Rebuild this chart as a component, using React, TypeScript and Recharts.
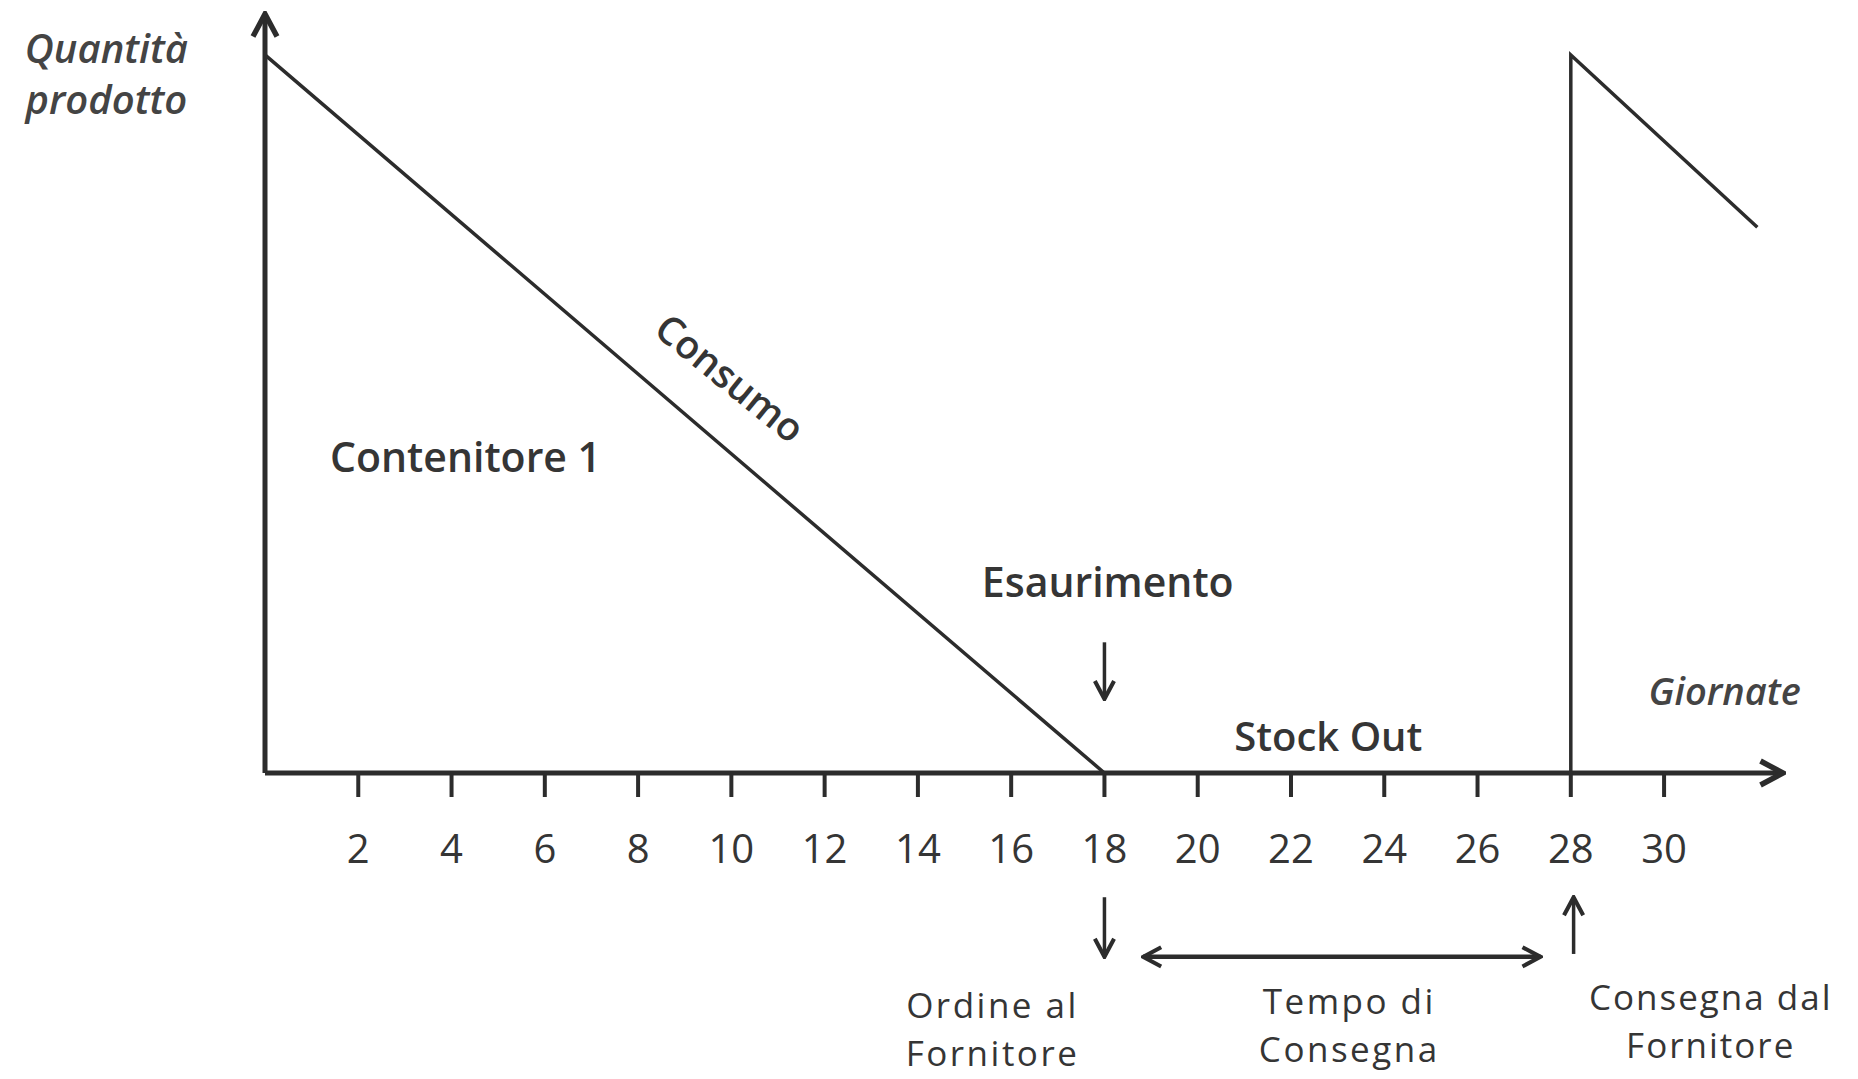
import * as React from 'react';
import { LineChart, Line, XAxis, YAxis, ReferenceDot, ReferenceLine } from 'recharts';

// Stock level over the days: consumption to zero on day 18, refill on day 28
const days = [0, 18, 28, 28, 32];
const quantity = [100, 0, 0, 100, 76];
const tickDays = [2, 4, 6, 8, 10, 12, 14, 16, 18, 20, 22, 24, 26, 28, 30];

const data = days.map((d, i) => ({ day: d, q: quantity[i] }));

const INK = '#2c2c2c';
const TEXT = '#353535';
const FONT = '"Open Sans", "DejaVu Sans", sans-serif';

type NoteOpts = {
  size?: number;
  italic?: boolean;
  rotate?: number;
  lineHeight?: number;
  color?: string;
  weight?: number;
  spacing?: number;
};

const note = (lines: string[], opts: NoteOpts = {}) => (props: any) => {
  const vb = props.viewBox || {};
  const cx = (vb.x ?? 0) + (vb.width ?? 0) / 2;
  const cy = (vb.y ?? 0) + (vb.height ?? 0) / 2;
  const lh = opts.lineHeight ?? 48;
  const top = cy - ((lines.length - 1) * lh) / 2;
  return (
    <text
      x={cx}
      y={top}
      textAnchor="middle"
      dominantBaseline="central"
      fontFamily={FONT}
      fontSize={opts.size ?? 40}
      fontStyle={opts.italic ? 'italic' : 'normal'}
      fontWeight={opts.weight ?? 600}
      letterSpacing={opts.spacing ?? 0}
      fill={opts.color ?? TEXT}
      transform={opts.rotate ? `rotate(${opts.rotate} ${cx} ${cy})` : undefined}
    >
      {lines.map((l, i) => (
        <tspan key={l} x={cx} y={top + i * lh}>
          {l}
        </tspan>
      ))}
    </text>
  );
};

export default function App() {
  return (
    <div style={{ position: 'absolute', left: 0, top: 0, background: '#fff' }}>
      <LineChart width={1858} height={1079} data={data} margin={{ top: 14, right: 75, bottom: 0, left: 0 }}>
        <defs>
          <marker
            id="arrowBig"
            viewBox="0 0 10 10"
            refX="9"
            refY="5"
            markerUnits="userSpaceOnUse"
            markerWidth="30"
            markerHeight="30"
            orient="auto-start-reverse"
          >
            <path d="M1.5,1 L9,5 L1.5,9" fill="none" stroke={INK} strokeWidth="1.8" />
          </marker>
          <marker
            id="arrowSmall"
            viewBox="0 0 10 10"
            refX="9"
            refY="5"
            markerUnits="userSpaceOnUse"
            markerWidth="24"
            markerHeight="24"
            orient="auto-start-reverse"
          >
            <path d="M1.5,1 L9,5 L1.5,9" fill="none" stroke={INK} strokeWidth="1.7" />
          </marker>
        </defs>
        <XAxis
          dataKey="day"
          type="number"
          domain={[0, 32.55]}
          allowDataOverflow
          ticks={tickDays}
          interval={0}
          height={306}
          tickSize={24}
          tickMargin={38}
          axisLine={{ stroke: INK, strokeWidth: 5, markerEnd: 'url(#arrowBig)' }}
          tickLine={{ stroke: INK, strokeWidth: 4 }}
          tick={{ fill: TEXT, fontSize: 40, fontFamily: FONT }}
        />
        <YAxis
          type="number"
          domain={[0, 105.7]}
          allowDataOverflow
          width={265}
          tick={false}
          tickLine={false}
          axisLine={{ stroke: INK, strokeWidth: 5, markerStart: 'url(#arrowBig)' }}
        />
        <Line
          type="linear"
          dataKey="q"
          stroke={INK}
          strokeWidth={3.5}
          dot={false}
          activeDot={false}
          isAnimationActive={false}
        />

        {/* arrows */}
        <ReferenceLine
          segment={[{ x: 18, y: 18.2 }, { x: 18, y: 10.3 }]}
          stroke={INK}
          strokeWidth={3.5}
          ifOverflow="visible"
          markerEnd="url(#arrowSmall)"
        />
        <ReferenceLine
          segment={[{ x: 18, y: -17.3 }, { x: 18, y: -25.6 }]}
          stroke={INK}
          strokeWidth={3.5}
          ifOverflow="visible"
          markerEnd="url(#arrowSmall)"
        />
        <ReferenceLine
          segment={[{ x: 18.83, y: -25.6 }, { x: 27.35, y: -25.6 }]}
          stroke={INK}
          strokeWidth={4.5}
          ifOverflow="visible"
          markerStart="url(#arrowSmall)"
          markerEnd="url(#arrowSmall)"
        />
        <ReferenceLine
          segment={[{ x: 28.06, y: -25.2 }, { x: 28.06, y: -17.3 }]}
          stroke={INK}
          strokeWidth={3.5}
          ifOverflow="visible"
          markerEnd="url(#arrowSmall)"
        />

        {/* text notes */}
        <ReferenceDot x={-3.4} y={97.6} r={0} fill="none" stroke="none" ifOverflow="visible"
          label={note(['Quantità', 'prodotto'], { italic: true, size: 40, lineHeight: 51, color: '#444' })} />
        <ReferenceDot x={4.3} y={44.2} r={0} fill="none" stroke="none" ifOverflow="visible"
          label={note(['Contenitore 1'], { size: 41 })} />
        <ReferenceDot x={10.0} y={55.2} r={0} fill="none" stroke="none" ifOverflow="visible"
          label={note(['Consumo'], { size: 39, rotate: 39 })} />
        <ReferenceDot x={18.07} y={26.7} r={0} fill="none" stroke="none" ifOverflow="visible"
          label={note(['Esaurimento'], { size: 41 })} />
        <ReferenceDot x={22.8} y={5.3} r={0} fill="none" stroke="none" ifOverflow="visible"
          label={note(['Stock Out'], { size: 40 })} />
        <ReferenceDot x={31.3} y={11.6} r={0} fill="none" stroke="none" ifOverflow="visible"
          label={note(['Giornate'], { italic: true, size: 38, color: '#444' })} />
        <ReferenceDot x={15.6} y={-35.5} r={0} fill="none" stroke="none" ifOverflow="visible"
          label={note(['Ordine al', 'Fornitore'], { size: 35, lineHeight: 48, weight: 400, spacing: 2.5 })} />
        <ReferenceDot x={23.25} y={-35.0} r={0} fill="none" stroke="none" ifOverflow="visible"
          label={note(['Tempo di', 'Consegna'], { size: 35, lineHeight: 48, weight: 400, spacing: 2.5 })} />
        <ReferenceDot x={31.0} y={-34.4} r={0} fill="none" stroke="none" ifOverflow="visible"
          label={note(['Consegna dal', 'Fornitore'], { size: 35, lineHeight: 48, weight: 400, spacing: 2 })} />
      </LineChart>
    </div>
  );
}
